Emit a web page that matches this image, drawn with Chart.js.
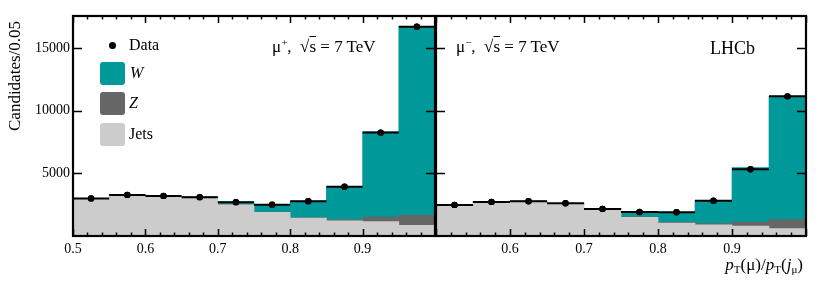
<!DOCTYPE html>
<html>
<head>
<meta charset="utf-8">
<script src="https://cdn.jsdelivr.net/npm/chart.js@4.4.0/dist/chart.umd.min.js"></script>
<style>
  body { margin: 0; background: #fff; }
  #wrap { position: relative; width: 828px; height: 281px; font-family: 'Liberation Serif', serif; color: #000; }
  canvas { position: absolute; top: 0; }
  .txt { position: absolute; white-space: nowrap; line-height: 1; }
  .box { position: absolute; width: 25px; height: 23px; border-radius: 3px; }
  sub { font-size: 0.65em; vertical-align: -0.3em; }
</style>
</head>
<body>
<div id="wrap">
  <canvas id="plusChart" width="440" height="281" style="left:0"></canvas>
  <canvas id="minusChart" width="397" height="281" style="left:431px"></canvas>

  <div class="txt" style="left:5px; top:131px; font-size:17px; transform:rotate(-90deg); transform-origin:top left; line-height:20px;">Candidates/0.05</div>

  <!-- legend -->
  <div style="position:absolute; left:109px; top:42px; width:7px; height:7px; border-radius:50%; background:#000;"></div>
  <div class="txt" style="left:129px; top:37px; font-size:16px;">Data</div>
  <div class="box" style="left:100px; top:62px; background:#009999;"></div>
  <div class="txt" style="left:130px; top:65px; font-size:16px; font-style:italic;">W</div>
  <div class="box" style="left:100px; top:92px; background:#666666;"></div>
  <div class="txt" style="left:129px; top:95px; font-size:16px; font-style:italic;">Z</div>
  <div class="box" style="left:100px; top:123px; background:#cccccc;"></div>
  <div class="txt" style="left:129px; top:126px; font-size:16px;">Jets</div>

  <div class="txt" style="left:272px; top:37px; font-size:17px;">μ<span style="font-size:0.65em; vertical-align:0.55em;">+</span>,&nbsp; √<span style="text-decoration:overline">s</span> = 7 TeV</div>
  <div class="txt" style="left:456px; top:37px; font-size:17px;">μ<span style="font-size:0.65em; vertical-align:0.55em;">−</span>,&nbsp; √<span style="text-decoration:overline">s</span> = 7 TeV</div>
  <div class="txt" style="left:710px; top:39px; font-size:18px;">LHCb</div>

  <div class="txt" style="right:25px; top:256px; font-size:17px;"><i>p</i><sub>T</sub>(μ)/<i>p</i><sub>T</sub>(<i>j</i><sub>μ</sub>)</div>
</div>

<script>
// bin centres, width 0.05
const binCenters = [0.525, 0.575, 0.625, 0.675, 0.725, 0.775, 0.825, 0.875, 0.925, 0.975];
const xTickValues = [0.5, 0.6, 0.7, 0.8, 0.9, 1.0];
const yTickValues = [5000, 10000, 15000];

// mu+ panel
const dataPlus = [3000, 3280, 3200, 3100, 2700, 2490, 2780, 3930, 8250, 16700];
const jetsPlus = [2970, 3260, 3170, 3080, 2490, 1880, 1420, 1220, 1150, 860];
const zPlus    = [20, 20, 20, 25, 25, 30, 50, 80, 360, 790];
const wPlus    = [10, 30, 40, 25, 205, 590, 1320, 2660, 6790, 15050];

// mu- panel
const dataMinus = [2480, 2720, 2770, 2610, 2160, 1920, 1890, 2820, 5320, 11140];
const jetsMinus = [2440, 2690, 2760, 2580, 2140, 1490, 1040, 900, 790, 590];
const zMinus    = [20, 20, 20, 20, 25, 30, 50, 90, 320, 720];
const wMinus    = [20, 20, 10, 10, 15, 400, 760, 1860, 4340, 9830];

const BIN_HALF = 0.025;
const Y_MAX = 17550;
const FONT = "'Liberation Serif', serif";

function pts(values) {
    return binCenters.map((x, i) => ({ x: x, y: values[i] }));
}

// horizontal bin-width bars on the data points
const dataBars = {
    id: 'dataBars',
    afterDatasetsDraw(chart) {
        const ctx = chart.ctx;
        const xs = chart.scales.x, ys = chart.scales.y;
        const meta = chart.getDatasetMeta(0);
        ctx.save();
        ctx.strokeStyle = '#000';
        ctx.lineWidth = 2;
        chart.data.datasets[0].data.forEach(p => {
            const y = ys.getPixelForValue(p.y);
            ctx.beginPath();
            ctx.moveTo(xs.getPixelForValue(p.x - BIN_HALF), y);
            ctx.lineTo(xs.getPixelForValue(p.x + BIN_HALF), y);
            ctx.stroke();
        });
        ctx.restore();
        meta.controller.draw(); // dots back on top of the bars
    }
};

// ROOT style frame with inward ticks
const frame = {
    id: 'frame',
    afterDraw(chart) {
        const ctx = chart.ctx;
        const a = chart.chartArea;
        const xs = chart.scales.x, ys = chart.scales.y;
        ctx.save();
        ctx.strokeStyle = '#000';
        ctx.lineWidth = 1.5;
        ctx.beginPath();
        for (let i = 0; i <= 25; i++) {
            const v = 0.5 + i * 0.02;
            const px = Math.round(xs.getPixelForValue(v)) + 0.5;
            const len = (i % 5 === 0) ? 7 : 3.5;
            ctx.moveTo(px, a.bottom); ctx.lineTo(px, a.bottom - len);
            ctx.moveTo(px, a.top); ctx.lineTo(px, a.top + len);
        }
        yTickValues.forEach(v => {
            const py = Math.round(ys.getPixelForValue(v)) + 0.5;
            ctx.moveTo(a.left, py); ctx.lineTo(a.left + 9, py);
            ctx.moveTo(a.right, py); ctx.lineTo(a.right - 9, py);
        });
        ctx.stroke();
        ctx.lineWidth = 2.2;
        ctx.strokeRect(a.left, a.top, a.right - a.left, a.bottom - a.top);
        ctx.restore();
    }
};

function makeChart(id, data, jets, z, w, showY, pad) {
    const ctx = document.getElementById(id).getContext('2d');
    return new Chart(ctx, {
        type: 'bar',
        data: {
            datasets: [
                {
                    type: 'line', label: 'Data', data: pts(data), stack: 'data',
                    showLine: false, pointRadius: 3.2, pointHoverRadius: 3.2,
                    pointBackgroundColor: '#000', pointBorderWidth: 0, borderColor: '#000'
                },
                { label: 'Jets', data: pts(jets), stack: 'mc', backgroundColor: '#cccccc',
                  barPercentage: 1, categoryPercentage: 1, borderWidth: 0 },
                { label: 'Z', data: pts(z), stack: 'mc', backgroundColor: '#666666',
                  barPercentage: 1, categoryPercentage: 1, borderWidth: 0 },
                { label: 'W', data: pts(w), stack: 'mc', backgroundColor: '#009999',
                  barPercentage: 1, categoryPercentage: 1, borderWidth: 0 }
            ]
        },
        options: {
            responsive: false,
            animation: false,
            layout: { padding: pad },
            plugins: { legend: { display: false }, tooltip: { enabled: false } },
            scales: {
                x: {
                    type: 'linear', min: 0.5, max: 1.0, stacked: true, offset: false,
                    grid: { display: false, drawTicks: false },
                    border: { display: false },
                    afterBuildTicks: s => { s.ticks = xTickValues.map(v => ({ value: v })); },
                    afterFit: s => { s.height = 45; },
                    ticks: {
                        padding: 5, color: '#000', font: { family: FONT, size: 14 },
                        maxRotation: 0, autoSkip: false,
                        callback: v => {
                            if (v > 0.95) return '';
                            if (!showY && v < 0.55) return '';
                            return v.toFixed(1);
                        }
                    }
                },
                y: {
                    min: 0, max: Y_MAX, stacked: true, display: showY,
                    grid: { display: false, drawTicks: false },
                    border: { display: false },
                    afterBuildTicks: s => { s.ticks = yTickValues.map(v => ({ value: v })); },
                    afterFit: s => { s.width = showY ? 73 : 0; },
                    ticks: {
                        padding: 3, color: '#000', font: { family: FONT, size: 14 },
                        callback: v => String(v)
                    }
                }
            }
        },
        plugins: [dataBars, frame]
    });
}

makeChart('plusChart', dataPlus, jetsPlus, zPlus, wPlus, true, { top: 16, right: 3, left: 0, bottom: 0 });
makeChart('minusChart', dataMinus, jetsMinus, zMinus, wMinus, false, { top: 16, right: 22, left: 0, bottom: 0 });
</script>
</body>
</html>
